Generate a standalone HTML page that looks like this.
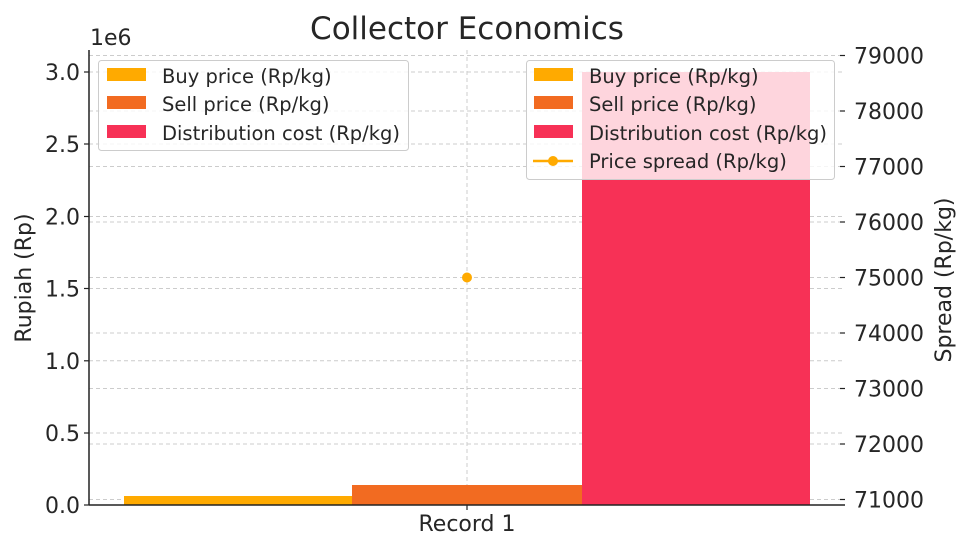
<!DOCTYPE html>
<html><head><meta charset="utf-8"><style>body{margin:0;background:#fff}svg{display:block}text{font-family:"DejaVu Sans","Liberation Sans",sans-serif;fill:#262626}</style></head><body>
<svg width="971" height="549" viewBox="0 0 971 549" xmlns="http://www.w3.org/2000/svg">
<rect width="971" height="549" fill="#fff"/>
<g stroke="#ccc" stroke-width="1" stroke-dasharray="4,3">
<line x1="467" y1="50" x2="467" y2="505"/>
<line x1="89" y1="72" x2="845" y2="72"/><line x1="89" y1="144" x2="845" y2="144"/><line x1="89" y1="216.5" x2="845" y2="216.5"/><line x1="89" y1="288.5" x2="845" y2="288.5"/><line x1="89" y1="360.8" x2="845" y2="360.8"/><line x1="89" y1="433" x2="845" y2="433"/>
<line x1="89" y1="55.5" x2="845" y2="55.5"/><line x1="89" y1="111" x2="845" y2="111"/><line x1="89" y1="166.5" x2="845" y2="166.5"/><line x1="89" y1="222" x2="845" y2="222"/><line x1="89" y1="277.5" x2="845" y2="277.5"/><line x1="89" y1="333" x2="845" y2="333"/><line x1="89" y1="388.5" x2="845" y2="388.5"/><line x1="89" y1="444" x2="845" y2="444"/><line x1="89" y1="499.5" x2="845" y2="499.5"/>
</g>
<rect x="124" y="496" width="228" height="9" fill="#FFAA00"/>
<rect x="352" y="485" width="230" height="20" fill="#F26B21"/>
<rect x="582" y="72" width="228" height="433" fill="#F73156"/>
<circle cx="467" cy="277.5" r="5" fill="#FFAA00"/>
<line x1="89" y1="50" x2="89" y2="505" stroke="#222" stroke-width="1.5"/>
<line x1="89" y1="505" x2="845" y2="505" stroke="#222" stroke-width="1.5"/>
<g stroke="#222" stroke-width="1.2">
<line x1="84" y1="72" x2="89" y2="72"/><line x1="84" y1="144" x2="89" y2="144"/><line x1="84" y1="216.5" x2="89" y2="216.5"/><line x1="84" y1="288.5" x2="89" y2="288.5"/><line x1="84" y1="360.8" x2="89" y2="360.8"/><line x1="84" y1="433" x2="89" y2="433"/><line x1="84" y1="505" x2="89" y2="505"/>
<line x1="467" y1="505" x2="467" y2="510"/>
<line x1="840" y1="55.5" x2="845" y2="55.5"/><line x1="840" y1="111" x2="845" y2="111"/><line x1="840" y1="166.5" x2="845" y2="166.5"/><line x1="840" y1="222" x2="845" y2="222"/><line x1="840" y1="277.5" x2="845" y2="277.5"/><line x1="840" y1="333" x2="845" y2="333"/><line x1="840" y1="388.5" x2="845" y2="388.5"/><line x1="840" y1="444" x2="845" y2="444"/><line x1="840" y1="499.5" x2="845" y2="499.5"/>
</g>
<g font-size="22" text-anchor="end">
<text x="80" y="80">3.0</text><text x="80" y="152">2.5</text><text x="80" y="224.5">2.0</text><text x="80" y="296.5">1.5</text><text x="80" y="369">1.0</text><text x="80" y="441">0.5</text><text x="80" y="513">0.0</text>
</g>
<g font-size="22">
<text x="854" y="63.5">79000</text><text x="854" y="119">78000</text><text x="854" y="174.5">77000</text><text x="854" y="230">76000</text><text x="854" y="285.5">75000</text><text x="854" y="341">74000</text><text x="854" y="396.5">73000</text><text x="854" y="452">72000</text><text x="854" y="507.5">71000</text>
</g>
<text x="90" y="45" font-size="22">1e6</text>
<text x="467" y="39" font-size="31" text-anchor="middle">Collector Economics</text>
<text x="467" y="531" font-size="22" text-anchor="middle">Record 1</text>
<text transform="translate(31,278) rotate(-90)" font-size="22" text-anchor="middle">Rupiah (Rp)</text>
<text transform="translate(951,280) rotate(-90)" font-size="22" text-anchor="middle">Spread (Rp/kg)</text>
<rect x="98.5" y="60.5" width="310" height="90" rx="3" fill="#fff" fill-opacity="0.8" stroke="#ccc"/>
<rect x="107" y="68" width="39" height="13" fill="#FFAA00"/>
<rect x="107" y="96" width="39" height="13" fill="#F26B21"/>
<rect x="107" y="125" width="39" height="13" fill="#F73156"/>
<g font-size="19.5"><text x="162" y="83">Buy price (Rp/kg)</text><text x="162" y="111">Sell price (Rp/kg)</text><text x="162" y="140">Distribution cost (Rp/kg)</text></g>
<rect x="526.5" y="60.5" width="308" height="119" rx="3" fill="#fff" fill-opacity="0.8" stroke="#ccc"/>
<rect x="534" y="68" width="39" height="13" fill="#FFAA00"/>
<rect x="534" y="96" width="39" height="13" fill="#F26B21"/>
<rect x="534" y="125" width="39" height="13" fill="#F73156"/>
<line x1="533" y1="161" x2="573" y2="161" stroke="#FFAA00" stroke-width="2.5"/><circle cx="553" cy="161" r="5" fill="#FFAA00"/>
<g font-size="19.5"><text x="589" y="83">Buy price (Rp/kg)</text><text x="589" y="111">Sell price (Rp/kg)</text><text x="589" y="140">Distribution cost (Rp/kg)</text><text x="589" y="168">Price spread (Rp/kg)</text></g>
</svg>
</body></html>
